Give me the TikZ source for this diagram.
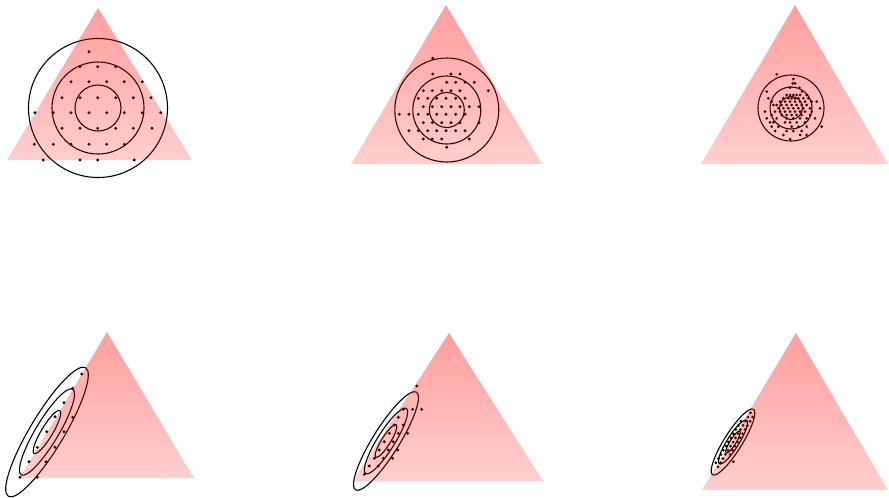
\documentclass[tikz,border=0pt]{standalone}
\usetikzlibrary{fadings}

\tikzfading[name=trifade, top color=transparent!0, bottom color=transparent!50]

\begin{document}
\begin{tikzpicture}[x=1pt, y=-1pt,
    ring/.style={line width=1.1pt},
    tri/.style={fill=red, fill opacity=0.38, path fading=trifade}]
    \useasboundingbox (0,0) rectangle (889,498);

    % top left
    \foreach \r in {23,46,69.5} \draw[ring] (98,108) circle (\r);
    \foreach \y/\xs in {51.7/{89}, 66.7/{80,97.7,115.7}, 81.7/{71,89,106.7,124.3,142.3},
        97.7/{62,80,97.7,115.7,133.3,151}, 112.7/{35,53.3,71,89,106.7,124.3,142.3,160.7},
        128.3/{62,80,97.7,115.7,133.3,152}, 144.3/{34.3,53.3,71,89,106.7,124.3},
        160/{43.3,80,97.7,134.3}}
        {\foreach \x in \xs \fill (\x,\y) circle (1.6);}
    \fill[tri] (98,8) -- (192,160) -- (7,160) -- cycle;

    % top middle
    \foreach \r in {17.5,34,52} \draw[ring] (446.8,110) circle (\r);
    \foreach \y/\xs in {58.3/{432.7}, 74/{432.7,451,460}, 82.3/{446.7,455.7,465,474.3},
        90.7/{423.3,432.3,441.7,451,460,488.3}, 98.3/{418.3,427.7,436.7,446,455.7,465},
        106.7/{423.3,432.3,441.7,451,460,469.3,479},
        114.3/{399.3,409,418.3,427.7,436.7,446,455.7,465},
        122.7/{423.3,432.3,441.7,451,460,479}, 130.7/{409,418.3,427.7,436.7,446,455.7,465},
        139/{423.3,432.3,441.7,469.3}, 147.3/{446.7}}
        {\foreach \x in \xs \fill (\x,\y) circle (1.6);}
    \fill[tri] (446,5) -- (542,164) -- (351,164) -- cycle;

    % top right
    \foreach \r in {11.5,21,33} \draw[ring] (791,108) circle (\r);
    \foreach \y/\xs in {74.3/{776.7}, 79/{793.3}, 83.3/{792.7,795}, 87.7/{790,799.3},
        91.7/{766.7,802}, 95/{786.7,790,793.3,796.7,800,806.7},
        98.3/{768.3,783.3,788.3,791.7,795,798.3,803.3,808.3},
        101.7/{771.7,780,785,790,795,800,805,811.7,816.7},
        105/{773.3,776.7,781.7,786.7,791.7,796.7,801.7,806.7},
        108.3/{778.3,783.3,788.3,793.3,798.3,803.3,810,820},
        111.7/{765,775,780,785,790,795,800,805,811.7},
        115/{771.7,781.7,786.7,791.7,796.7,801.7,810},
        118.3/{766.7,776.7,786.7,793.3,800,806.7,815},
        122.3/{770,773.3,785,790,796.7,805}, 126.7/{771.7,778.3,791.7,798.3,806.7,821.7},
        131/{775,786.7,793.3,801.7}, 135/{783.3,800,806.7}, 139/{790}}
        {\foreach \x in \xs \fill (\x,\y) circle (1.5);}
    \fill[tri] (795,5) -- (888,164) -- (701,164) -- cycle;

    % bottom left
    \foreach \a/\b in {25/5.7,50/11.4,75/17}
        \draw[ring, rotate around={59:(47,432)}] (47,432) ellipse [x radius=\a, y radius=\b];
    \foreach \x/\y in {81.7/374, 72.7/388.3, 64/402.7, 55/416.7, 46.7/431.7, 37.3/447.3,
        29/461.7, 20/477.3, 72.7/417.3, 64/431.7, 55/447.3, 46/461.7, 37.3/477.3}
        \fill (\x,\y) circle (1.6);
    \fill[tri] (107,332) -- (194,478) -- (20,478) -- cycle;

    % bottom middle
    \foreach \a/\b in {19.2/4.4,38.4/8.8,57.6/13.2}
        \draw[ring, rotate around={58:(386,441)}] (386,441) ellipse [x radius=\a, y radius=\b];
    \foreach \x/\y in {416.7/386, 403.3/409.3, 412.7/409.3, 421.7/409.3, 398.3/417.3,
        394.3/425, 403.3/425, 389.3/433.3, 398.3/433.3, 407.7/433.3, 384.3/441.7,
        393.3/441.7, 379.3/450, 388.3/450, 397.7/450, 374.3/458.3, 383.3/458.3,
        392.7/458.3, 369.3/466, 378.3/466, 364.3/474.3}
        \fill (\x,\y) circle (1.6);
    \fill[tri] (449,333) -- (543,481) -- (353,481) -- cycle;

    % bottom right
    \foreach \a/\b in {12.9/3,25.7/6,38.6/9}
        \draw[ring, rotate around={58:(733,442)}] (733,442) ellipse [x radius=\a, y radius=\b];
    \foreach \j/\is in {-7/{0}, -6/{0,1}, -5/{-1,0,1}, -4/{-1,0,1}, -3/{-1,0,1},
        -2/{-1,0,1}, -1/{-1,0,1}, 0/{-1,0,1}, 1/{-1,0,1}, 2/{-1,0,1}, 3/{-1,0,1},
        4/{-1,0}, 5/{-1,0}, 6/{0}}
        {\foreach \i in \is \fill ({733-2.5*\j+4.6*\i},{442+4.15*\j}) circle (1.5);}
    \fill (733.3,461.7) circle (1.5);
    \fill[tri] (796,333) -- (888,490) -- (702,490) -- cycle;
\end{tikzpicture}
\end{document}
